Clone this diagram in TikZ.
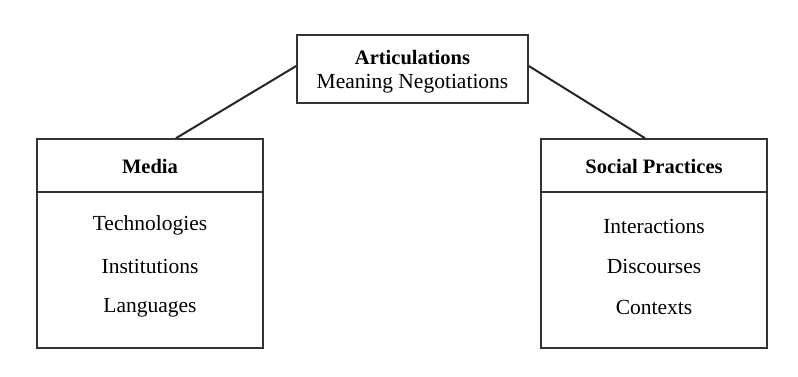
\documentclass[tikz,border=0pt]{standalone}
\usepackage{fontspec}
\setmainfont{Liberation Serif}
\begin{document}
\begin{tikzpicture}[x=1pt,y=-1pt,
  boxline/.style={draw=black!80, line width=1.6pt},
  conn/.style={draw=black!85, line width=2pt},
  txt/.style={font=\fontsize{21.5}{24}\selectfont, inner sep=0pt, anchor=center},
  hdr/.style={font=\fontsize{20.5}{24}\selectfont\bfseries, inner sep=0pt, anchor=center}]
\useasboundingbox (0,0) rectangle (798,377);
% top box
\node[boxline, minimum width=231pt, minimum height=68pt, inner sep=0pt] (top) at (412.5,69) {};
\node[hdr] (art) at (412.5,58) {Articulations};
\node[txt] (mn) at (412.5,84) {Meaning Negotiations};
% left box
\node[boxline, minimum width=226pt, minimum height=209pt, inner sep=0pt] (media) at (150,243.5) {};
\draw[boxline] (media.north west |- 0,192) coordinate (ml) -- (media.north east |- 0,192) coordinate (mr);
\node[hdr] (mh) at (150,166) {Media};
\node[txt] (m1) at (150,225) {Technologies};
\node[txt] (m2) at (150,266) {Institutions};
\node[txt] (m3) at (150,308) {Languages};
% right box
\node[boxline, minimum width=226pt, minimum height=209pt, inner sep=0pt] (soc) at (654,243.5) {};
\draw[boxline] (soc.north west |- 0,192) coordinate (sl) -- (soc.north east |- 0,192) coordinate (sr);
\node[hdr] (sh) at (654,166) {Social Practices};
\node[txt] (s1) at (654,226) {Interactions};
\node[txt] (s2) at (654,266) {Discourses};
\node[txt] (s3) at (654,307) {Contexts};
% connectors
\draw[conn] ([xshift=26pt]media.north) -- ([yshift=3pt]top.west);
\draw[conn] ([xshift=-9pt]soc.north) -- ([yshift=3pt]top.east);
\end{tikzpicture}
\end{document}
